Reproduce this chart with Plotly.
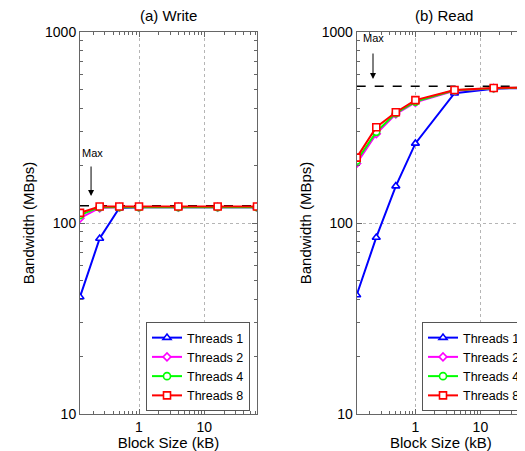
import plotly.graph_objects as go
import math

# ---- data ----
block_kb = [0.125, 0.25, 0.5, 1, 4, 16, 64]
thread_labels = ["Threads 1", "Threads 2", "Threads 4", "Threads 8"]

write_t1 = [41, 83, 120, 121, 121, 121, 121]
write_t2 = [106, 120, 121, 121, 121, 121, 121]
write_t4 = [110, 121, 121, 121, 121, 121, 121]
write_t8 = [113, 122, 122, 122, 122, 122, 122]
write_max = 123

read_t1 = [42, 84, 156, 261, 478, 505, 510]
read_t2 = [205, 293, 372, 428, 493, 508, 512]
read_t4 = [212, 300, 376, 432, 495, 508, 512]
read_t8 = [220, 317, 380, 440, 497, 509, 512]
read_max = 520

colors = ["#0000FF", "#FF00FF", "#00FF00", "#FF0000"]
symbols = ["triangle-up", "diamond", "circle", "square"]
msizes = [7, 6, 7, 7]

# page has an 8px body margin; the figure is sized to fill the rest of the window
OFF = 8
W, H = 525 - OFF, 451 - OFF
FONT = "Liberation Sans, Arial, sans-serif"

def fx(px):  # window px -> figure px
    return px - OFF

fig = go.Figure()

# Max reference lines
fig.add_trace(go.Scatter(x=[block_kb[0], block_kb[-1]], y=[write_max, write_max], mode="lines",
                         line=dict(color="black", width=1.5, dash="dash"), showlegend=False,
                         xaxis="x", yaxis="y", hoverinfo="skip"))
fig.add_trace(go.Scatter(x=[block_kb[0], block_kb[-1]], y=[read_max, read_max], mode="lines",
                         line=dict(color="black", width=1.5, dash="dash"), showlegend=False,
                         xaxis="x2", yaxis="y2", hoverinfo="skip"))

def add_series(series, xa, ya, leg):
    for i, ys in enumerate(series):
        fig.add_trace(go.Scatter(x=block_kb, y=ys, mode="lines+markers", name=thread_labels[i],
                                 line=dict(color=colors[i], width=2),
                                 marker=dict(symbol=symbols[i], size=msizes[i], color="white",
                                             line=dict(width=1.6, color=colors[i])),
                                 xaxis=xa, yaxis=ya, legend=leg))

add_series([write_t1, write_t2, write_t4, write_t8], "x", "y", "legend")
add_series([read_t1, read_t2, read_t4, read_t8], "x2", "y2", "legend2")

# geometry (window pixels from reference)
px_left1, px_right1 = 80, 257
px_left2 = 356.7
px_top, px_bot = 32, 414
decade_px = 65.0
x_lo = math.log10(block_kb[0])
x_hi1 = math.log10(block_kb[-1])
x_hi2 = x_lo + (525 - px_left2) / decade_px

axis_common = dict(type="log", showline=True, linecolor="#666", linewidth=1,
                   ticks="inside", ticklen=5, tickcolor="#666", dtick=1,
                   tickfont=dict(family=FONT, size=14, color="black"),
                   showgrid=True, gridcolor="#b5b5b5", griddash="dot", gridwidth=1,
                   zeroline=False,
                   minor=dict(ticks="inside", ticklen=3, dtick="D1", tickcolor="#666", showgrid=False))

ydom = [(H - fx(px_bot)) / H, (H - fx(px_top)) / H]

fig.update_layout(
    width=W, height=H,
    margin=dict(l=0, r=0, t=0, b=0, autoexpand=False),
    plot_bgcolor="white", paper_bgcolor="white",
    font=dict(family=FONT, color="black"),
    xaxis=dict(axis_common, domain=[fx(px_left1) / W, fx(px_right1) / W], range=[x_lo, x_hi1],
               mirror="ticks", anchor="y",
               title=dict(text="Block Size (kB)", font=dict(size=15), standoff=9)),
    yaxis=dict(axis_common, domain=ydom, range=[1, 3], mirror="ticks", anchor="x",
               title=dict(text="Bandwidth (MBps)", font=dict(size=15), standoff=6)),
    xaxis2=dict(axis_common, domain=[fx(px_left2) / W, 1.0], range=[x_lo, x_hi2],
                mirror="ticks", anchor="y2",
                title=dict(text="Block Size (kB)", font=dict(size=15), standoff=9)),
    yaxis2=dict(axis_common, domain=ydom, range=[1, 3], mirror=False, anchor="x2",
                title=dict(text="Bandwidth (MBps)", font=dict(size=15), standoff=6)),
    legend=dict(x=fx(146) / W, y=(H - fx(411)) / H, xanchor="left", yanchor="bottom",
                bgcolor="white", bordercolor="#555", borderwidth=1,
                font=dict(family=FONT, size=12.5), tracegroupgap=0, itemwidth=30),
    legend2=dict(x=fx(422) / W, y=(H - fx(411)) / H, xanchor="left", yanchor="bottom",
                 bgcolor="white", bordercolor="#555", borderwidth=1,
                 font=dict(family=FONT, size=12.5), tracegroupgap=0, itemwidth=30),
    showlegend=True,
)

def lx(px, left):
    return x_lo + (px - left) / decade_px

def ly(py):
    return 1 + (px_bot - py) / ((px_bot - px_top) / 2)

annos = [
    dict(text="(a) Write", x=fx((px_left1 + px_right1) / 2) / W, y=(H - fx(16)) / H,
         xref="paper", yref="paper", showarrow=False, font=dict(size=15),
         xanchor="center", yanchor="middle"),
    dict(text="(b) Read", x=fx(444) / W, y=(H - fx(16)) / H, xref="paper", yref="paper",
         showarrow=False, font=dict(size=15), xanchor="center", yanchor="middle"),
    dict(text="Max", x=lx(92, px_left1), y=ly(153), xref="x", yref="y", showarrow=False,
         font=dict(size=11), xanchor="center", yanchor="middle"),
    dict(text="", x=lx(91, px_left1), y=ly(196), xref="x", yref="y", showarrow=True,
         ax=0, ay=-31, arrowhead=2, arrowsize=1.2, arrowwidth=1, arrowcolor="black"),
    dict(text="Max", x=lx(373.5, px_left2), y=ly(38), xref="x2", yref="y2", showarrow=False,
         font=dict(size=11), xanchor="center", yanchor="middle"),
    dict(text="", x=lx(373, px_left2), y=ly(79), xref="x2", yref="y2", showarrow=True,
         ax=0, ay=-27, arrowhead=2, arrowsize=1.2, arrowwidth=1, arrowcolor="black"),
]
fig.update_layout(annotations=annos)

fig.write_html("out.html")
